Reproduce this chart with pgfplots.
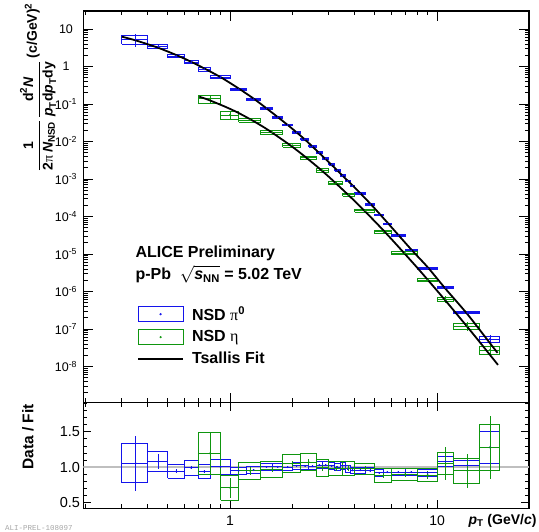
\documentclass[border=0pt]{standalone}
\usepackage{amsmath}
\usepackage{fontspec}
\usepackage{pgfplots}
\usepackage{pgfplotstable}
\pgfplotsset{compat=1.18}
\setmainfont{Liberation Sans}
\newfontfamily\symb{Liberation Serif}
\newfontfamily\monofont{Liberation Mono}

\definecolor{pblue}{RGB}{20,20,235}
\definecolor{pgreen}{RGB}{15,150,15}

% pi0: bin edges, yield, data/fit, rel. syst, rel. stat
\pgfplotstableread{
xl xh val rat sys stat
0.3 0.4 5.25 1.056 0.26 0.37
0.4 0.5 3.4 1.08 0.13 0.10
0.5 0.6 1.9 0.94 0.10 0.03
0.6 0.7 1.32 0.99 0.105 0.02
0.7 0.8 0.84 0.94 0.10 0.02
0.8 1.0 0.525 1.005 0.10 0.015
1.0 1.2 0.247 0.95 0.05 0.01
1.2 1.4 0.133 0.96 0.05 0.01
1.4 1.6 0.077 1.005 0.05 0.01
1.6 1.8 0.044 1.005 0.05 0.01
1.8 2.0 0.0275 1.0 0.05 0.01
2.0 2.2 0.0176 1.02 0.05 0.01
2.2 2.4 0.0115 1.02 0.05 0.01
2.4 2.6 0.00745 1.015 0.05 0.012
2.6 2.8 0.00504 1.03 0.05 0.012
2.8 3.0 0.00348 1.03 0.05 0.012
3.0 3.2 0.00241 1.02 0.05 0.015
3.2 3.4 0.0017 1.0 0.05 0.015
3.4 3.6 0.00123 1.02 0.05 0.015
3.6 3.8 8.85e-4 0.98 0.05 0.015
3.8 4.0 6.5e-4 0.955 0.05 0.015
4.0 4.5 4.1e-4 0.955 0.05 0.015
4.5 5.0 2.11e-4 0.95 0.05 0.02
5.0 5.5 1.1e-4 0.92 0.05 0.02
5.5 6.0 6.4e-5 0.93 0.05 0.02
6.0 7.0 3.1e-5 0.93 0.055 0.02
7.0 8.0 1.23e-5 0.93 0.055 0.02
8.0 10 4.1e-6 0.92 0.055 0.03
10 12 1.26e-6 1.08 0.065 0.04
12 16 2.7e-7 1.025 0.065 0.05
16 20 5.4e-8 1.28 0.18 0.25
}\pitab

% eta
\pgfplotstableread{
xl xh val rat sys stat
0.7 0.9 0.138 1.196 0.25 0.25
0.9 1.1 0.051 0.71 0.25 0.20
1.1 1.4 0.0374 0.95 0.13 0.06
1.4 1.8 0.0176 0.97 0.115 0.04
1.8 2.2 0.0079 1.05 0.12 0.04
2.2 2.6 0.0037 1.07 0.11 0.04
2.6 3.0 0.0017 0.99 0.12 0.04
3.0 3.5 7.8e-4 0.98 0.105 0.04
3.5 4.0 3.8e-4 0.985 0.10 0.04
4.0 5.0 1.43e-4 0.98 0.08 0.04
5.0 6.0 3.9e-5 0.88 0.11 0.04
6.0 8.0 1.05e-5 0.90 0.095 0.04
8.0 10 2.0e-6 0.89 0.10 0.06
10 12 6.2e-7 1.05 0.15 0.22
12 16 1.2e-7 0.95 0.19 0.25
16 20 2.75e-8 1.28 0.25 0.35
}\etatab

% unit square, walked round once; scaled to each bin's box
\pgfplotstableread{
fx fy
0 0
1 0
1 1
0 1
0 0
}\corner

% syst. box + value line for every row, point with stat. error
\newcommand{\series}[3]{%
  \pgfplotstablegetrowsof{#1}%
  \pgfmathtruncatemacro\lastrow{\pgfplotsretval-1}%
  \pgfplotsforeachungrouped \r in {0,...,\lastrow}{%
    \pgfplotstablegetelem{\r}{xl}\of{#1}\let\bxl\pgfplotsretval
    \pgfplotstablegetelem{\r}{xh}\of{#1}\let\bxh\pgfplotsretval
    \pgfplotstablegetelem{\r}{#3}\of{#1}\let\bv\pgfplotsretval
    \pgfplotstablegetelem{\r}{sys}\of{#1}\let\bs\pgfplotsretval
    \addplot[#2, line width=0.85pt, forget plot]
      table[x expr={\bxl+\thisrow{fx}*(\bxh-\bxl)},
            y expr={\bv*(1+(2*\thisrow{fy}-1)*\bs)}] {\corner};
    \addplot[#2, line width=0.85pt, forget plot]
      coordinates {(\bxl,\bv) (\bxh,\bv)};
  }%
  \addplot[#2, only marks, mark=*, mark size=0.7pt, forget plot,
    error bars/.cd, y dir=both, y explicit, error mark=none,
    error bar style={#2, line width=0.8pt}]
    table[x expr={0.5*(\thisrow{xl}+\thisrow{xh})}, y=#3,
          y error expr={\thisrow{#3}*\thisrow{stat}}] {#1};
}

\begin{document}
\begin{tikzpicture}
\useasboundingbox (0,0) rectangle (539pt,532pt);

\begin{axis}[
    at={(83.5pt,129.3pt)}, anchor=south west, scale only axis,
    width=445.5pt, height=391.7pt,
    xmode=log, ymode=log, log basis x=10, log basis y=10,
    xmin=0.196, xmax=27.8, ymin=1.08e-9, ymax=30.2,
    axis line style={line width=1.1pt},
    every tick/.style={black, line width=0.7pt},
    major tick length=10pt, minor tick length=4.5pt,
    xticklabels={},
    yticklabel={\pgfmathtruncatemacro\ex{round(\tick)}%
      \ifnum\ex=0 1\else\ifnum\ex=1 10\else 10\textsuperscript{\ex}\fi\fi},
    yticklabel style={anchor=center, xshift=-17.5pt, font=\fontsize{12.5}{12.5}\selectfont},
    legend style={draw=none, fill=none, at={(0.1201,0.2515)}, anchor=north west,
      inner sep=0pt, row sep=4.8pt, font=\bfseries\fontsize{16}{16}\selectfont,
      /tikz/every odd column/.style={column sep=6pt}},
    legend cell align=left,
]
\series{\pitab}{pblue}{val}
\series{\etatab}{pgreen}{val}

% Tsallis fits
\addplot[black, line width=1.8pt, smooth, forget plot] coordinates {
  (0.3,6.24) (0.35,4.97) (0.45,3.15) (0.55,2.02) (0.65,1.33) (0.75,0.89)
  (0.9,0.52) (1.1,0.26) (1.3,0.139) (1.5,0.0766) (1.9,0.0275) (2.3,0.01127)
  (2.7,0.00489) (3.1,0.00236) (3.5,0.00121) (3.9,6.8e-4) (4.75,2.22e-4)
  (5.75,6.9e-5) (7.5,1.32e-5) (9,4.46e-6) (11,1.17e-6) (14,2.5e-7)
  (18,4.2e-8) (19.6,2.3e-8)
};
\addplot[black, line width=1.8pt, smooth, forget plot] coordinates {
  (0.71,0.157) (0.8,0.1244) (1.0,0.0741) (1.2,0.0446) (1.5,0.02163)
  (2.0,7.21e-3) (2.5,2.72e-3) (3.0,1.144e-3) (4.0,2.58e-4) (5.0,7.43e-5)
  (6.0,2.55e-5) (8.0,4.37e-6) (10,1.05e-6) (12,3.18e-7) (15,7.15e-8)
  (19.7,1.1e-8)
};

\addlegendimage{legend image code/.code={
  \draw[pblue, line width=0.8pt] (0pt,-7.5pt) rectangle (45pt,7.5pt);
  \fill[pblue] (22.5pt,0pt) circle (0.9pt);}}
\addlegendentry{NSD {\symb\mdseries π}\textsuperscript{0}}
\addlegendimage{legend image code/.code={
  \draw[pgreen, line width=0.8pt] (0pt,-7.5pt) rectangle (45pt,7.5pt);
  \fill[pgreen] (22.5pt,0pt) circle (0.9pt);}}
\addlegendentry{NSD {\symb\mdseries η}}
\addlegendimage{legend image code/.code={
  \draw[black, line width=1.8pt] (0pt,0pt) -- (45pt,0pt);}}
\addlegendentry{Tsallis Fit}

\node[anchor=base west, inner sep=0pt, font=\bfseries\fontsize{16}{16}\selectfont]
  at (rel axis cs:0.1163,0.3712) {ALICE Preliminary};
\node[anchor=base west, inner sep=0pt, font=\bfseries\fontsize{16}{16}\selectfont]
  at (rel axis cs:0.1163,0.3133)
  {p-Pb\ \ \smash{$\sqrt{\smash[b]{\textbf{\textit{s}}_{\textbf{NN}}}}$} = 5.02 TeV};
\end{axis}

\begin{axis}[
    at={(83.5pt,23.7pt)}, anchor=south west, scale only axis,
    width=445.5pt, height=105.6pt,
    xmode=log, log basis x=10,
    xmin=0.196, xmax=27.8, ymin=0.42, ymax=1.91,
    axis line style={line width=1.1pt},
    every tick/.style={black, line width=0.7pt},
    major tick length=8pt, minor tick length=4pt,
    ytick={0.5,1,1.5},
    minor ytick={0.6,0.7,0.8,0.9,1.1,1.2,1.3,1.4,1.6,1.7,1.8,1.9},
    xticklabel={\pgfmathtruncatemacro\ex{round(\tick)}\ifnum\ex=0 1\else 10\fi},
    xticklabel style={yshift=-4pt, font=\fontsize{14}{14}\selectfont},
    yticklabel style={font=\fontsize{14.5}{14.5}\selectfont,
      /pgf/number format/.cd, fixed, fixed zerofill, precision=1, assume math mode=true},
]
\addplot[black!25, line width=1.4pt, forget plot] coordinates {(0.196,1) (27.8,1)};
\series{\pitab}{pblue}{rat}
\series{\etatab}{pgreen}{rat}
\end{axis}

\node[rotate=90, anchor=east, inner sep=0pt, font=\bfseries\fontsize{14}{14}\selectfont]
  at (38pt,529pt)
  {$\dfrac{\textbf{1}}{\textbf{2}\text{\symb\mdseries π}\,\textbf{\textit{N}}_{\textbf{NSD}}}\,
    \dfrac{\textbf{d}^{\textbf{2}}\textbf{\textit{N}}}{\textbf{\textit{p}}_{\textbf{T}}\textbf{d}\textbf{\textit{p}}_{\textbf{T}}\textbf{dy}}$\,%
    \raisebox{6pt}{(c/GeV)\textsuperscript{2}}};
\node[rotate=90, anchor=east, inner sep=0pt, font=\bfseries\fontsize{15.5}{15.5}\selectfont]
  at (28pt,128pt) {Data / Fit};
\node[anchor=base east, inner sep=0pt, font=\bfseries\fontsize{14}{14}\selectfont]
  at (536.7pt,7.3pt) {\textit{p}\textsubscript{T} (GeV/\textit{c})};
\node[anchor=base west, inner sep=0pt, font=\monofont\fontsize{7.5}{7.5}\selectfont, text=black!35]
  at (5pt,1.5pt) {ALI-PREL-108097};
\end{tikzpicture}
\end{document}
